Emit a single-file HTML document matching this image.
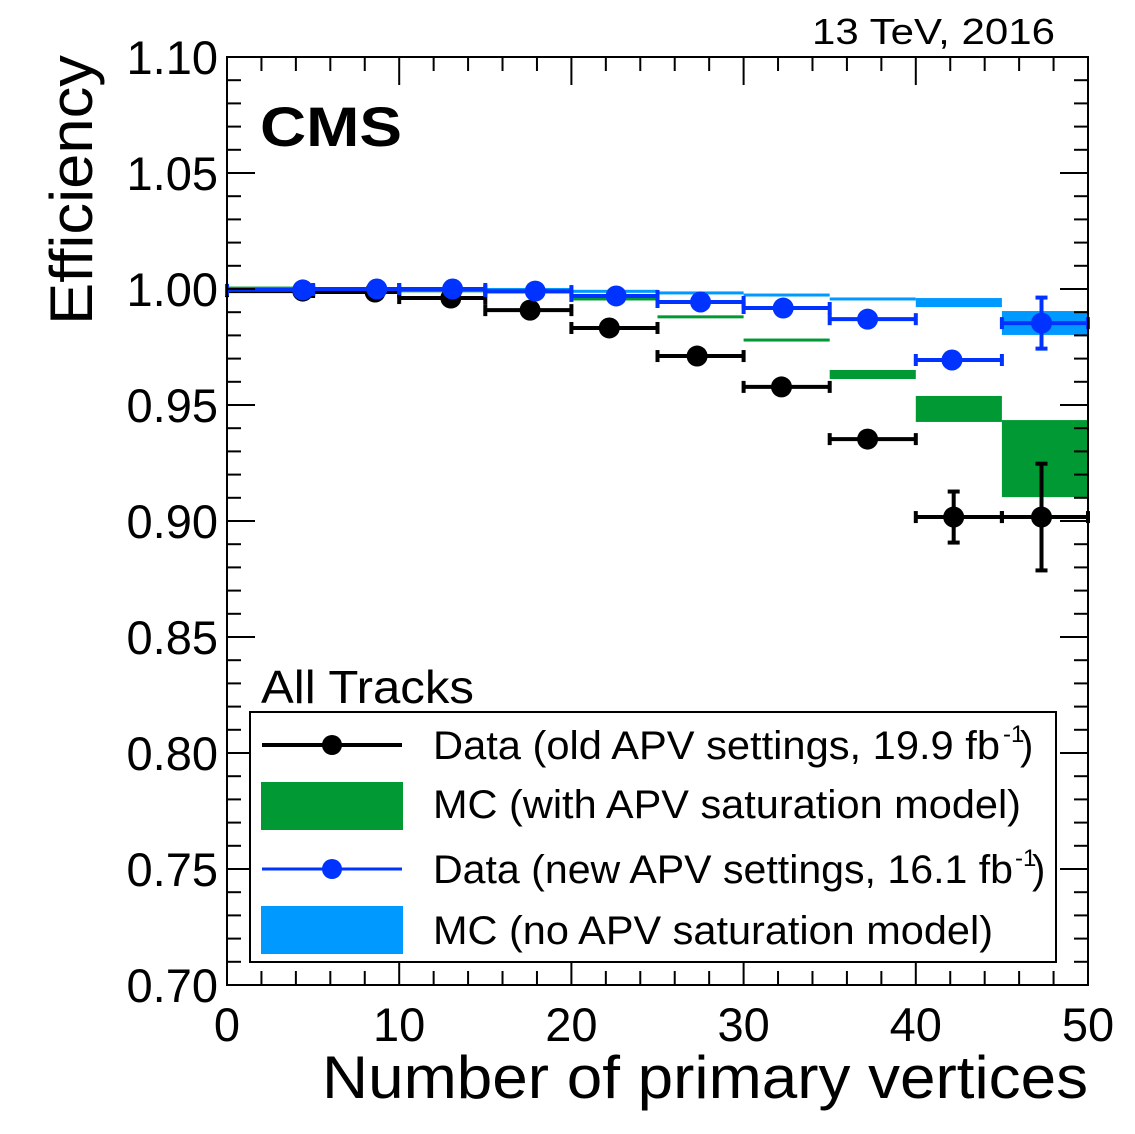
<!DOCTYPE html>
<html><head><meta charset="utf-8"><style>
html,body{margin:0;padding:0;background:#fff;}
svg{display:block;font-family:"Liberation Sans",Arial,sans-serif;}
</style></head><body>
<svg id="chart" width="1135" height="1134" viewBox="0 0 1135 1134" xmlns="http://www.w3.org/2000/svg">
<rect x="0" y="0" width="1135" height="1134" fill="#fff"/>
<g id="bands"></g><g id="series"></g><g id="axes"></g>
<text x="1055" y="44" font-size="36" text-anchor="end" textLength="243" lengthAdjust="spacingAndGlyphs">13 TeV, 2016</text>
<text x="260" y="146" font-size="56" font-weight="bold" textLength="142" lengthAdjust="spacingAndGlyphs">CMS</text>
<text x="261" y="703" font-size="46" textLength="213" lengthAdjust="spacingAndGlyphs">All Tracks</text>
<text transform="translate(92,325) rotate(-90)" font-size="60" textLength="270" lengthAdjust="spacingAndGlyphs">Efficiency</text>
<text x="1088" y="1098" font-size="60" text-anchor="end" textLength="766" lengthAdjust="spacingAndGlyphs">Number of primary vertices</text>
<g>
<rect x="250" y="712" width="806" height="250" fill="#fff" stroke="#000" stroke-width="2"/>
<g>
<line x1="262" y1="745" x2="402" y2="745" stroke="#000" stroke-width="4"/><circle cx="332" cy="745" r="10" fill="#000"/>
<text x="433" y="759" font-size="40" textLength="567" lengthAdjust="spacingAndGlyphs">Data (old APV settings, 19.9 fb</text>
<text x="1003" y="742" font-size="24">-1</text><text x="1020" y="759" font-size="40">)</text></g>
<g>
<rect x="261" y="782" width="142" height="48" fill="#009933"/>
<text x="433" y="818" font-size="40" textLength="588" lengthAdjust="spacingAndGlyphs">MC (with APV saturation model)</text></g>
<g>
<line x1="262" y1="869" x2="402" y2="869" stroke="#0033ff" stroke-width="3"/><circle cx="332" cy="869" r="10" fill="#0033ff"/>
<text x="433" y="883" font-size="40" textLength="580" lengthAdjust="spacingAndGlyphs">Data (new APV settings, 16.1 fb</text>
<text x="1015" y="866" font-size="24">-1</text><text x="1032" y="883" font-size="40">)</text></g>
<g>
<rect x="261" y="906" width="142" height="48" fill="#0099ff"/>
<text x="433" y="944" font-size="40" textLength="560" lengthAdjust="spacingAndGlyphs">MC (no APV saturation model)</text></g>
</g>
</svg>
<script>
const binLow = [0,5,10,15,20,25,30,35,40,45];
const binHigh = [5,10,15,20,25,30,35,40,45,50];
const oldX = [4.4,8.6,13.0,17.6,22.2,27.3,32.2,37.2,42.2,47.3];
const oldY = [0.9991,0.9987,0.9961,0.9909,0.9832,0.9711,0.9578,0.9353,0.9017,0.9017];
const oldErr = [0.0005,0.0005,0.0006,0.0008,0.001,0.0012,0.0015,0.002,0.011,0.023];
const newX = [4.4,8.7,13.1,17.9,22.6,27.5,32.3,37.2,42.1,47.3];
const newY = [0.9996,1.0,1.0,0.9991,0.997,0.9944,0.9918,0.987,0.9694,0.9853];
const newErr = [0.0004,0.0004,0.0005,0.0006,0.0008,0.001,0.0012,0.0015,0.003,0.011];
const mcSatLo = [1.0002,0.9998,0.9990,0.9985,0.9955,0.9878,0.9778,0.9612,0.9427,0.9103];
const mcSatHi = [1.0006,1.0002,0.9994,0.9989,0.9959,0.9882,0.9782,0.9651,0.9539,0.9435];
const mcNoLo = [0.9998,1.0000,0.9996,0.9996,0.9988,0.9981,0.9972,0.9955,0.9922,0.9802];
const mcNoHi = [1.0002,1.0004,1.0000,1.0000,0.9992,0.9985,0.9976,0.9959,0.9961,0.9905];
const xTicks = [0,10,20,30,40,50];
const yTicks = [0.70,0.75,0.80,0.85,0.90,0.95,1.00,1.05,1.10];
const X0=227,X1=1088,Y0=985,Y1=57;
const xs=v=>X0+(v-0)/50*(X1-X0);
const ys=v=>Y0-(v-0.70)/0.40*(Y0-Y1);
const NS='http://www.w3.org/2000/svg';
function mk(tag,attrs,parent){const e=document.createElementNS(NS,tag);for(const k in attrs)e.setAttribute(k,attrs[k]);parent.appendChild(e);return e;}
const bands=document.getElementById('bands'),series=document.getElementById('series'),axes=document.getElementById('axes');
function band(lo,hi,col,name){for(let i=0;i<binLow.length;i++){let y1=ys(hi[i]),y2=ys(lo[i]);if(y2-y1<3){const c=(y1+y2)/2;y1=c-1.5;y2=c+1.5;}
const r=mk('rect',{x:xs(binLow[i]),y:y1,width:xs(binHigh[i])-xs(binLow[i]),height:y2-y1,fill:col},bands);

}}
band(mcSatLo,mcSatHi,'#009933','mc-saturation-band');
band(mcNoLo,mcNoHi,'#0099ff','mc-no-saturation-band');
function pts(xv,yv,ev,col,name,w){for(let i=0;i<xv.length;i++){const g=mk('g',{},series);


const y=ys(yv[i]),xa=xs(binLow[i]),xb=xs(binHigh[i]);
mk('line',{x1:xa,y1:y,x2:xb,y2:y,stroke:col,'stroke-width':w},g);
mk('line',{x1:xa,y1:y-6,x2:xa,y2:y+6,stroke:col,'stroke-width':4},g);
mk('line',{x1:xb,y1:y-6,x2:xb,y2:y+6,stroke:col,'stroke-width':4},g);
const ya=ys(yv[i]+ev[i]),yb=ys(yv[i]-ev[i]);
mk('line',{x1:xs(xv[i]),y1:ya,x2:xs(xv[i]),y2:yb,stroke:col,'stroke-width':4},g);
if(yb-ya>14){mk('line',{x1:xs(xv[i])-6,y1:ya,x2:xs(xv[i])+6,y2:ya,stroke:col,'stroke-width':4},g);mk('line',{x1:xs(xv[i])-6,y1:yb,x2:xs(xv[i])+6,y2:yb,stroke:col,'stroke-width':4},g);}
mk('circle',{cx:xs(xv[i]),cy:y,r:10.5,fill:col},g);}}
pts(oldX,oldY,oldErr,'#000','data-old-point',4);
pts(newX,newY,newErr,'#0033ff','data-new-point',4);
const fr=mk('rect',{x:X0,y:Y1,width:X1-X0,height:Y0-Y1,fill:'none',stroke:'#000','stroke-width':2},axes);


for(let v=0;v<=50;v+=2){const x=xs(v),L=(v%10===0)?28:14;
mk('line',{x1:x,y1:Y0,x2:x,y2:Y0-L,stroke:'#000','stroke-width':2},axes);
mk('line',{x1:x,y1:Y1,x2:x,y2:Y1+L,stroke:'#000','stroke-width':2},axes);}
for(let k=0;k<=40;k++){const v=0.70+k*0.01,y=ys(v),L=(k%5===0)?28:14;
mk('line',{x1:X0,y1:y,x2:X0+L,y2:y,stroke:'#000','stroke-width':2},axes);
mk('line',{x1:X1,y1:y,x2:X1-L,y2:y,stroke:'#000','stroke-width':2},axes);}
xTicks.forEach(v=>{const t=mk('text',{x:xs(v),y:1041,'font-size':47,'text-anchor':'middle'},axes);t.textContent=String(v);

});
yTicks.forEach(v=>{const t=mk('text',{x:218,y:ys(v)+17,'font-size':47,'text-anchor':'end'},axes);t.textContent=v.toFixed(2);

});
</script>
</body></html>
